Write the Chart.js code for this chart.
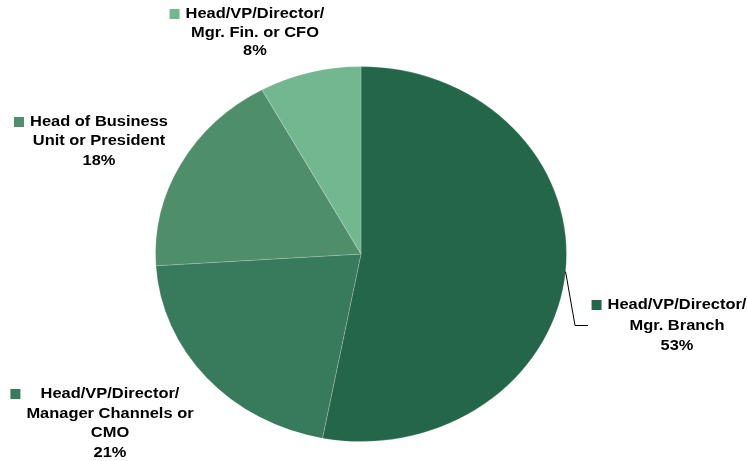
<!DOCTYPE html>
<html>
<head>
<meta charset="utf-8">
<script src="https://cdn.jsdelivr.net/npm/chart.js@4"></script>
<style>
  html, body { margin: 0; padding: 0; background: #fff; }
  #c { display: block; }
</style>
</head>
<body>
<canvas id="c" width="747" height="461"></canvas>
<script>
// --- data ---
const categories = [
  ['Head/VP/Director/', 'Mgr. Branch'],
  ['Head/VP/Director/', 'Manager Channels or', 'CMO'],
  ['Head of Business', 'Unit or President'],
  ['Head/VP/Director/', 'Mgr. Fin. or CFO']
];
const values = [53, 21, 18, 8];
const colors = ['#236649', '#377a5c', '#4f8e6b', '#73b791'];

// label placement (centre x, first line centre y, line height)
const labelPos = [
  { x: 677, y: 305, lh: 20.5, leader: true },
  { x: 110, y: 394, lh: 19.5 },
  { x: 99, y: 122, lh: 19.3 },
  { x: 255, y: 14, lh: 18.5 }
];

const SX = 1.096; // the original pie is stretched sideways
const FONT = 'bold 15px "Liberation Sans", Arial, sans-serif';

// stretch the pie into an ellipse
const stretchPie = {
  id: 'stretchPie',
  beforeDatasetsDraw(chart) {
    const arc = chart.getDatasetMeta(0).data[0];
    const ctx = chart.ctx;
    ctx.save();
    ctx.translate(arc.x, 0);
    ctx.scale(SX, 1);
    ctx.translate(-arc.x, 0);
  },
  afterDatasetsDraw(chart) {
    chart.ctx.restore();
  }
};

// labels with small colour boxes, like the original
const pieLabels = {
  id: 'pieLabels',
  afterDraw(chart) {
    const ctx = chart.ctx;
    const arcs = chart.getDatasetMeta(0).data;
    ctx.save();
    ctx.font = FONT;
    ctx.fillStyle = '#000';
    ctx.textBaseline = 'middle';
    ctx.textAlign = 'center';

    categories.forEach((lines, i) => {
      const p = labelPos[i];
      const all = lines.concat([values[i] + '%']);
      let widest = 0;
      all.forEach((t, k) => {
        widest = Math.max(widest, ctx.measureText(t).width * SX);
        ctx.save();
        ctx.translate(p.x, p.y + k * p.lh);
        ctx.scale(SX, 1);
        ctx.fillText(t, 0, 0);
        ctx.restore();
      });
      // colour box
      ctx.fillStyle = colors[i];
      ctx.fillRect(p.x - widest / 2 - 16, p.y - 5, 10, 10);
      ctx.fillStyle = '#000';

      if (p.leader) {
        const a = arcs[i];
        const mid = (a.startAngle + a.endAngle) / 2;
        const sx = a.x + Math.cos(mid) * a.outerRadius * SX;
        const sy = a.y + Math.sin(mid) * a.outerRadius;
        ctx.beginPath();
        ctx.strokeStyle = '#000';
        ctx.lineWidth = 1;
        ctx.moveTo(sx, sy);
        ctx.lineTo(575, p.y + p.lh);
        ctx.lineTo(588, p.y + p.lh);
        ctx.stroke();
      }
    });
    ctx.restore();
  }
};

new Chart(document.getElementById('c'), {
  type: 'pie',
  data: {
    labels: categories.map(l => l.join(' ')),
    datasets: [{
      data: values,
      backgroundColor: colors,
      borderColor: 'rgba(255,255,255,0.18)',
      borderWidth: 1
    }]
  },
  options: {
    responsive: false,
    animation: false,
    layout: { padding: { top: 66, bottom: 19, left: 173, right: 198 } },
    plugins: {
      legend: { display: false },
      tooltip: { enabled: false }
    }
  },
  plugins: [stretchPie, pieLabels]
});
</script>
</body>
</html>
